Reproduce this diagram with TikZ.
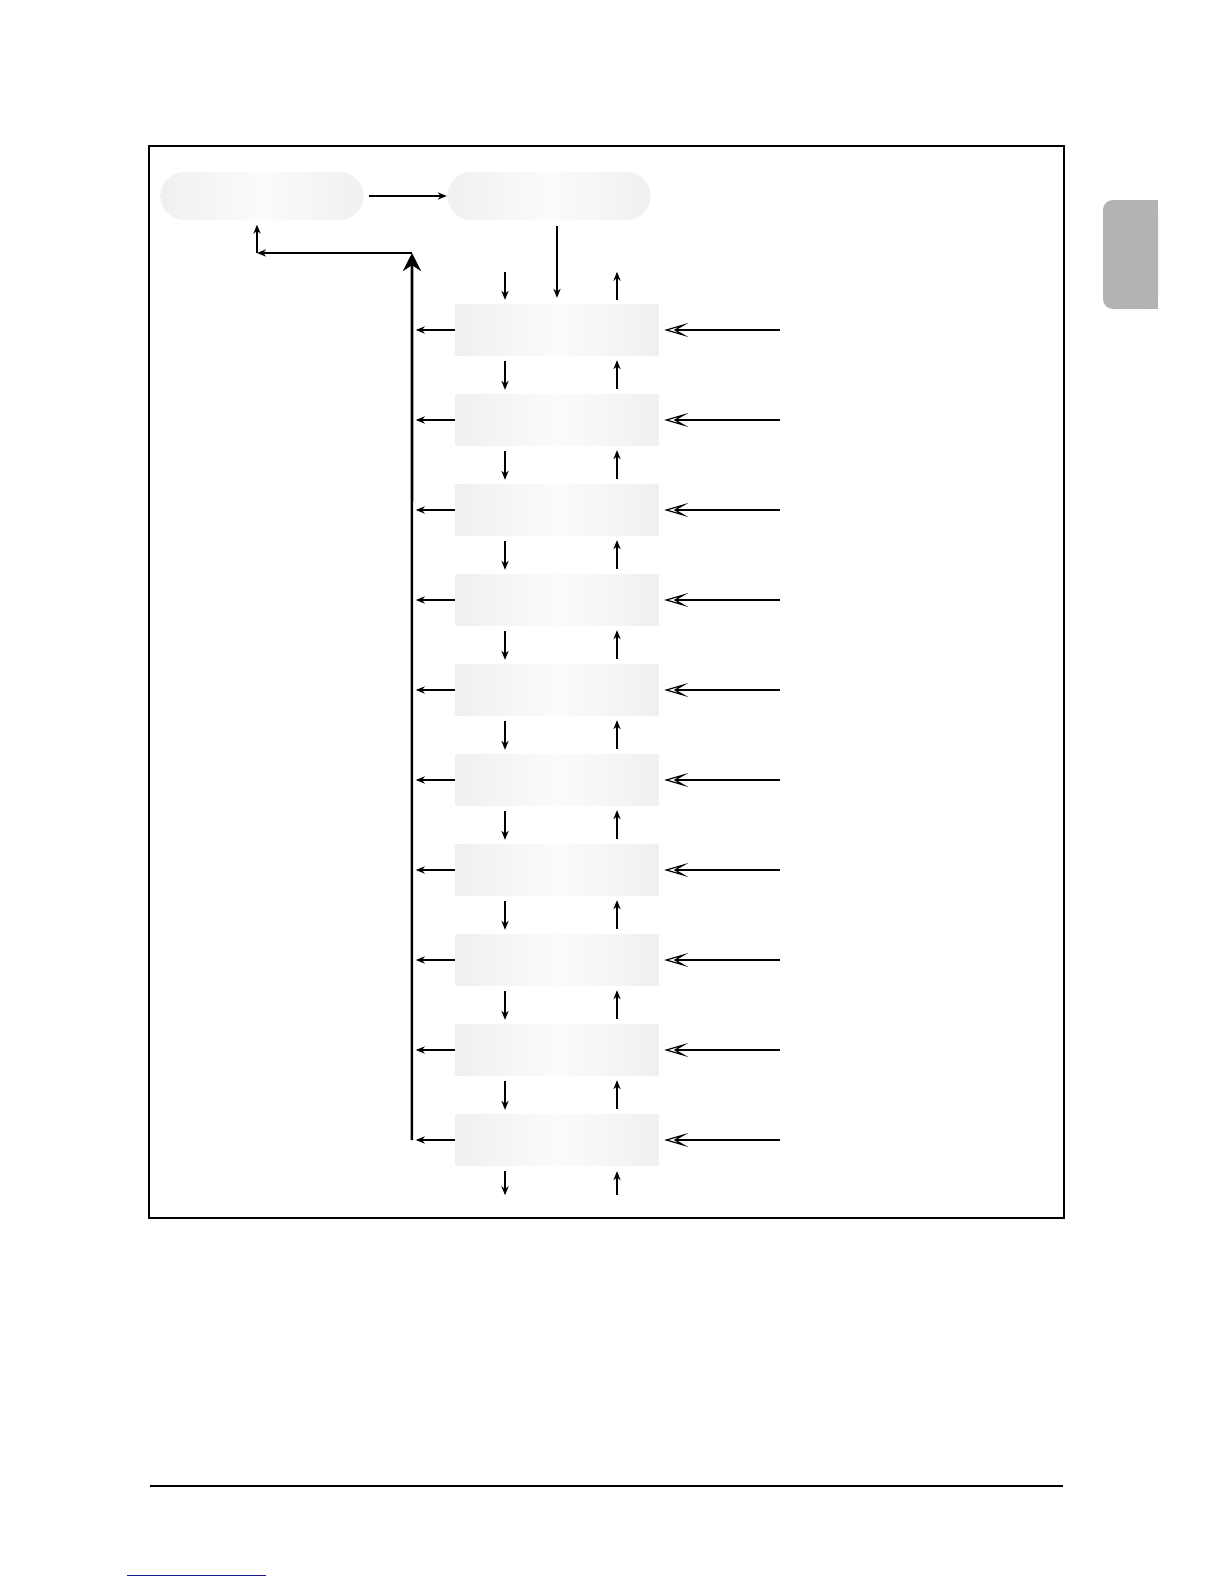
\documentclass[tikz,border=0pt]{standalone}
\usetikzlibrary{positioning, arrows.meta}
\definecolor{tabgray}{HTML}{B3B3B3}
\definecolor{linkblue}{HTML}{1A1A99}

\begin{document}
\begin{tikzpicture}[x=0.5pt, y=-0.5pt, node distance={18.8pt}, line width=0.7pt,
                    >={Stealth[length=4.5pt, width=3.6pt]},
                    menu/.style = {rounded corners=12pt, minimum width=101.5pt, minimum height=24pt,
                                   inner sep=0pt, left color=gray!12, right color=gray!12, middle color=gray!3},
                    item/.style = {minimum width=101.5pt, minimum height=25.5pt, inner sep=0pt,
                                   left color=gray!12, right color=gray!12, middle color=gray!3},
                    feed/.style = {line width=1.3pt, shorten >=2.5pt,
                                   -{Stealth[length=12pt, width=7pt, inset=6pt, open, line width=0.6pt]}},
                    spine/.style = {line width=1.3pt, -{Stealth[length=9pt, width=9pt]}}]
    \useasboundingbox (0,0) rectangle (1224,1584);

    % page furniture
    \draw (149,146) rectangle (1064,1218);
    \draw (150,1486) -- (1063,1486);
    \draw[linkblue, line width=0.5pt] (127,1575) -- (266,1575);
    \fill[tabgray, rounded corners=5pt] (1103,200) rectangle (1158,309);
    \fill[tabgray] (1130,200) rectangle (1158,309);

    % top row
    \node[menu] (home) at (262,196) {};
    \node[menu] (menu) at (549,196) {};

    % column of steps
    \node[item] (s1) at (557,330) {};
    \foreach \i [count=\j from 2] in {1,...,9}
        \node[item, below=of s\i] (s\j) {};

    \coordinate (entry) at ([xshift=-26pt, yshift=16pt]s1.north);
    \coordinate (exit) at ([xshift=30pt, yshift=16pt]s1.north);
    \coordinate (down) at ([xshift=-26pt, yshift=-14.5pt]s10.south);
    \coordinate (up) at ([xshift=30pt, yshift=-14.5pt]s10.south);
    \coordinate (spinetop) at (412,253);
    \coordinate (corner) at (257,253);

    \draw[->, shorten <=2.5pt] (home) -- (menu);
    \draw[->, shorten <=2.5pt, shorten >=3pt] (menu.south -| s1) -- (s1.north);
    \draw[->, shorten >=2pt] (entry) -- (entry |- s1.north);
    \draw[->, shorten <=2pt] (exit |- s1.north) -- (exit);
    \draw[->, shorten <=2.5pt] (down |- s10.south) -- (down);
    \draw[->, shorten >=2.5pt] (up) -- (up |- s10.south);

    \foreach \i [count=\j from 2] in {1,...,9} {
        \draw[->, shorten <=2.5pt, shorten >=2pt] ([xshift=-26pt]s\i.south) -- ([xshift=-26pt]s\j.north);
        \draw[->, shorten <=2.5pt, shorten >=2pt] ([xshift=30pt]s\j.north) -- ([xshift=30pt]s\i.south);
    }

    \foreach \i in {1,...,10} {
        \coordinate (spine\i) at ([xshift=-21.5pt]s\i.west);
        \coordinate (in\i) at ([xshift=60.5pt]s\i.east);
        \draw[->, shorten >=2pt] (s\i) -- (spine\i);
        \draw[feed] (in\i) -- (s\i);
    }

    \draw[spine] (spine10) -- (spinetop);
    \draw[->] (spinetop) -- (corner);
    \draw[->, line width=1pt, shorten >=2pt] (corner) -- (home.south -| corner);
\end{tikzpicture}
\end{document}
